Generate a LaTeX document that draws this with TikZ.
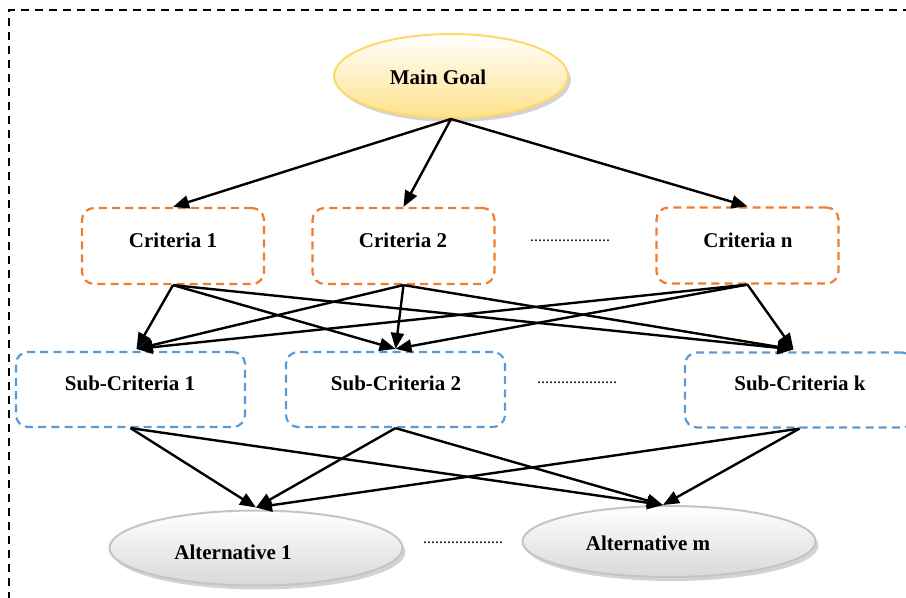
\documentclass[tikz,border=0pt]{standalone}
\usepackage{fontspec}
\setmainfont{Liberation Serif}
\usetikzlibrary{shapes.geometric,arrows.meta,shadows}
\definecolor{corange}{HTML}{ED7D31}
\definecolor{cblue}{HTML}{5B9BD5}
\definecolor{cgold}{HTML}{FFD966}
\definecolor{cgoldfill}{HTML}{FFE28A}
\definecolor{cgrayline}{HTML}{C4C4C4}
\definecolor{cgrayfill}{HTML}{D9D9D9}
\begin{document}
\begin{tikzpicture}[x=0.5pt,y=-0.5pt,
  lbl/.style={font=\fontsize{10.5}{12}\selectfont\bfseries, inner sep=0pt},
  critbox/.style={draw=corange, line width=1.1pt, dash pattern=on 4pt off 2.6pt,
    rounded corners=6pt, minimum width=91pt, minimum height=38pt, inner sep=0pt},
  subbox/.style={draw=cblue, line width=1.1pt, dash pattern=on 4pt off 2.6pt,
    rounded corners=6pt, minimum height=37.5pt, inner sep=0pt},
  goalell/.style={ellipse, draw=cgold, line width=1pt, top color=white, bottom color=cgoldfill,
    minimum width=117pt, minimum height=42pt, inner sep=0pt,
    drop shadow={shadow xshift=1.5pt, shadow yshift=-2pt, opacity=0.35, fill=gray}},
  altell/.style={ellipse, draw=cgrayline, line width=1pt, top color=white, bottom color=cgrayfill,
    minimum width=146.5pt, inner sep=0pt,
    drop shadow={shadow xshift=1.5pt, shadow yshift=-2pt, opacity=0.35, fill=gray}},
  link/.style={draw=black, line width=1.2pt, -{Triangle[length=8pt,width=6.5pt]}},
  dotsep/.style={font=\fontsize{8}{8}\selectfont, inner sep=0pt}
]
\useasboundingbox (0,0) rectangle (906,598);
\clip (0,0) rectangle (906,598);
% frame
\draw[line width=0.75pt, dash pattern=on 4pt off 3pt] (9,600) -- (9,10) -- (910,10);
% goal
\node[goalell] (goal) at (451,76) {};
\node[lbl] (goalt) at (438,77) {Main Goal};
% criteria
\node[critbox] (c1) at (173,246) {};
\node[lbl] (c1t) at (173,240) {Criteria 1};
\node[critbox] (c2) at (403.5,246) {};
\node[lbl] (c2t) at (403,240) {Criteria 2};
\node[critbox] (cn) at (747.5,245.5) {};
\node[lbl] (cnt) at (748,240) {Criteria n};
\node[dotsep] (cdots) at (570,241) {....................};
% sub-criteria
\node[subbox, minimum width=114.5pt] (s1) at (130.5,389.5) {};
\node[lbl] (s1t) at (130,383) {Sub-Criteria 1};
\node[subbox, minimum width=109.5pt] (s2) at (395.5,389.5) {};
\node[lbl] (s2t) at (396,383) {Sub-Criteria 2};
\node[subbox, minimum width=114.5pt] (sk) at (799.5,390) {};
\node[lbl] (skt) at (800,383) {Sub-Criteria k};
\node[dotsep] (sdots) at (577,383) {....................};
% alternatives
\node[altell, minimum height=37.5pt] (a1) at (256,548) {};
\node[lbl] (a1t) at (233,552) {Alternative 1};
\node[altell, minimum height=35.5pt] (am) at (669,541.5) {};
\node[lbl] (amt) at (648,543) {Alternative m};
\node[dotsep] (adots) at (463,543) {....................};
% links goal -> criteria
\draw[link] (goal.south) -- (c1.north);
\draw[link] (goal.south) -- (c2.north);
\draw[link] (goal.south) -- (cn.north);
% criteria -> sub-criteria
\foreach \c in {c1,c2,cn}{
  \draw[link] (\c.south) -- ([xshift=3pt,yshift=1pt]s1.north);
  \draw[link] (\c.south) -- ([yshift=1pt]s2.north);
  \draw[link] (\c.south) -- ([xshift=-3pt,yshift=1pt]sk.north);
}
% sub-criteria -> alternatives
\foreach \s in {s1,s2,sk}{
  \draw[link] (\s.south) -- ([yshift=1pt]a1.north);
  \draw[link] (\s.south) -- ([xshift=-3pt]am.north);
}
\end{tikzpicture}
\end{document}
